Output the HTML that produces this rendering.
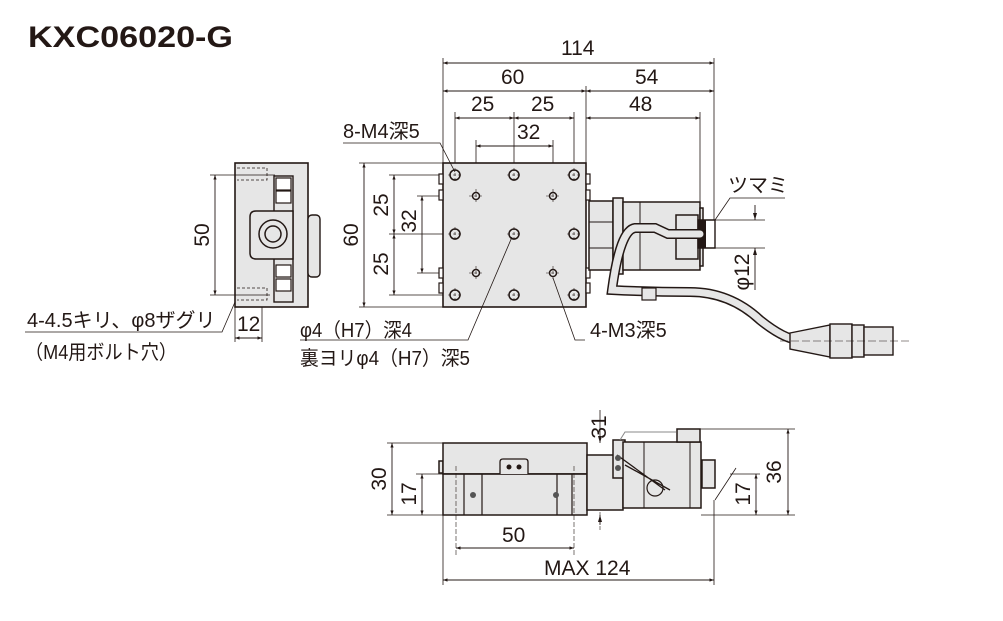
<!DOCTYPE html>
<html><head><meta charset="utf-8"><style>
body{margin:0;background:#fff}
svg{display:block}
text{font-family:"Liberation Sans","Noto Sans CJK JP",sans-serif;fill:#231815}
</style></head><body>
<svg width="1003" height="621" viewBox="0 0 1003 621" xmlns="http://www.w3.org/2000/svg">
<defs>
<marker id="a" viewBox="0 0 10 10" refX="10" refY="5" markerWidth="7" markerHeight="5" orient="auto-start-reverse"><path d="M0,1.5L10,5L0,8.5z" fill="#231815"/></marker>
</defs>
<text x="28" y="47" font-size="30" font-weight="bold" textLength="205" lengthAdjust="spacingAndGlyphs">KXC06020-G</text>

<g stroke="#231815" stroke-width="0.8" fill="none">
<path d="M443 58V163M714 58V222M586 86V163M455 112V175M514 112V175M574 112V175M700 112V202M476 140V196M553 140V196"/>
<path d="M359 163H443M359 307H443M389 175H455M389 234H455M389 295H455M417 196H476M417 273H476"/>
<path d="M715 220H765M715 248H765"/>
</g>
<g stroke="#231815" stroke-width="0.9" marker-start="url(#a)" marker-end="url(#a)" fill="none">
<line x1="443" y1="63" x2="714" y2="63"/>
<line x1="443" y1="91" x2="586" y2="91"/>
<line x1="586" y1="91" x2="714" y2="91"/>
<line x1="455" y1="118" x2="514" y2="118"/>
<line x1="514" y1="118" x2="574" y2="118"/>
<line x1="586" y1="118" x2="700" y2="118"/>
<line x1="476" y1="146" x2="553" y2="146"/>
<line x1="364" y1="163" x2="364" y2="307"/>
<line x1="394" y1="175" x2="394" y2="234"/>
<line x1="394" y1="234" x2="394" y2="295"/>
<line x1="422" y1="196" x2="422" y2="273"/>
</g>
<g stroke="#231815" stroke-width="0.9" fill="none">
<path d="M755 205V220M755 248V290" /></g>
<path d="M755 220l-2-7h4z M755 248l-2 7h4z" fill="#231815"/>

<g font-size="21">
<text x="561" y="55">114</text>
<text x="501" y="84">60</text>
<text x="635" y="84">54</text>
<text x="471" y="111">25</text>
<text x="531" y="111">25</text>
<text x="629" y="111">48</text>
<text x="517" y="139">32</text>
<text transform="translate(358,235) rotate(-90)" text-anchor="middle">60</text>
<text transform="translate(388,205) rotate(-90)" text-anchor="middle">25</text>
<text transform="translate(388,264) rotate(-90)" text-anchor="middle">25</text>
<text transform="translate(416,221) rotate(-90)" text-anchor="middle">32</text>
<text transform="translate(749,272) rotate(-90)" text-anchor="middle">φ12</text>
<text transform="translate(209,235) rotate(-90)" text-anchor="middle">50</text>
<text x="237" y="331">12</text>
</g>

<rect x="443" y="163" width="143" height="144" fill="#e6e6e6" stroke="#231815" stroke-width="1.6"/>
<g fill="#fff" stroke="#231815" stroke-width="1.2">
<rect x="439" y="174" width="4" height="10"/><rect x="439" y="190" width="4" height="10"/>
<rect x="439" y="268" width="4" height="10"/><rect x="439" y="283" width="4" height="10"/>
<rect x="586" y="174" width="4" height="10"/><rect x="586" y="190" width="4" height="10"/>
<rect x="586" y="268" width="4" height="10"/><rect x="586" y="283" width="4" height="10"/>
</g>
<g stroke="#231815" stroke-width="0.6" stroke-dasharray="3 2">
<path d="M448 175h14M455 168v14M507 175h14M514 168v14M567 175h14M574 168v14M448 234h14M455 227v14M507 234h14M514 227v14M567 234h14M574 227v14M448 295h14M455 288v14M507 295h14M514 288v14M567 295h14M574 288v14M469 196h14M476 189v14M546 196h14M553 189v14M469 273h14M476 266v14M546 273h14M553 266v14"/>
</g>
<g fill="none" stroke="#231815" stroke-width="1.5">
<circle cx="455" cy="175" r="5"/><circle cx="514" cy="175" r="5"/><circle cx="574" cy="175" r="5"/>
<circle cx="455" cy="234" r="5"/><circle cx="514" cy="234" r="5"/><circle cx="574" cy="234" r="5"/>
<circle cx="455" cy="295" r="5"/><circle cx="514" cy="295" r="5"/><circle cx="574" cy="295" r="5"/>
<circle cx="476" cy="196" r="3.5"/><circle cx="553" cy="196" r="3.5"/><circle cx="476" cy="273" r="3.5"/><circle cx="553" cy="273" r="3.5"/>
</g>
<g fill="#e6e6e6" stroke="#231815" stroke-width="1.5">
<rect x="589" y="201" width="24" height="69"/>
<rect x="613" y="198" width="10" height="76"/>
<rect x="623" y="202" width="77" height="68"/>
<rect x="676" y="215" width="22" height="44"/>
<rect x="700" y="208" width="3" height="58"/>
</g>
<path d="M589 222H613M589 248H613M640 202V270" stroke="#231815" stroke-width="1"/>
<path d="M698 220h17v28h-17z" fill="#fff" stroke="#231815" stroke-width="1.4"/>
<path d="M698 220h8v28h-8z" fill="#231815"/>
<path d="M700 234H668L655 228H635Q620 230 612 290Q650 292 690 292Q730 292 760 320Q785 340 800 340" fill="none" stroke="#231815" stroke-width="10" stroke-linecap="round"/>
<path d="M700 234H668L655 228H635Q620 230 612 290Q650 292 690 292Q730 292 760 320Q785 340 800 340" fill="none" stroke="#e6e6e6" stroke-width="7" stroke-linecap="round"/>
<path d="M790 333L830 325V357L790 349Z" fill="#e6e6e6" stroke="#231815" stroke-width="1.4"/>
<rect x="830" y="324" width="22" height="34" fill="#e6e6e6" stroke="#231815" stroke-width="1.4"/>
<rect x="852" y="325" width="12" height="32" fill="#e6e6e6" stroke="#231815" stroke-width="1.4"/>
<rect x="864" y="327" width="29" height="28" fill="#e6e6e6" stroke="#231815" stroke-width="1.4"/>
<rect x="642" y="288" width="14" height="12" fill="#e6e6e6" stroke="#231815" stroke-width="1.2"/>
<path d="M780 341H910" stroke="#231815" stroke-width="0.6" stroke-dasharray="8 3"/>

<rect x="235" y="163" width="73" height="144" fill="#e6e6e6" stroke="#231815" stroke-width="1.6"/>
<rect x="308" y="215" width="12" height="62" rx="4" fill="#e6e6e6" stroke="#231815" stroke-width="1.4"/>
<rect x="274" y="176" width="19" height="126" fill="#e6e6e6" stroke="#231815" stroke-width="1.4"/>
<g fill="#fff" stroke="#231815" stroke-width="1.2">
<rect x="276" y="178" width="15" height="12"/><rect x="276" y="191" width="15" height="12"/>
<rect x="276" y="265" width="15" height="12"/><rect x="276" y="279" width="15" height="12"/>
</g>
<path d="M256 211h37v48h-37q-6 0-6-6v-36q0-6 6-6z" fill="#e6e6e6" stroke="#231815" stroke-width="1.5"/>
<circle cx="273" cy="234" r="14" fill="#e6e6e6" stroke="#231815" stroke-width="1.5"/>
<circle cx="273" cy="234" r="8" fill="none" stroke="#231815" stroke-width="1.5"/>
<path d="M237 168h30v12h-30M237 288h30v12h-30" fill="none" stroke="#231815" stroke-width="0.8" stroke-dasharray="3 2"/>
<g stroke="#231815" stroke-width="0.8" fill="none">
<path d="M210 175H275M210 295H270M235 307V342M262 307V342"/>
</g>
<line x1="215" y1="175" x2="215" y2="295" stroke="#231815" stroke-width="0.9" marker-start="url(#a)" marker-end="url(#a)"/>
<line x1="235" y1="338" x2="262" y2="338" stroke="#231815" stroke-width="0.9" marker-start="url(#a)" marker-end="url(#a)"/>

<g stroke="#231815" stroke-width="0.8" fill="none">
<path d="M343 143H440L455 172"/>
<path d="M25 332H222L235 302"/>
<path d="M300 340H468L512 237"/>
<path d="M585 340H575L553 278"/>
<path d="M785 198H730L715 220"/>
</g>
<g font-size="20">
<text x="343" y="138">8-M4深5</text>
<text x="27" y="327">4-4.5キリ、φ8ザグリ</text>
<text x="25" y="359" textLength="152" lengthAdjust="spacingAndGlyphs">（M4用ボルト穴）</text>
<text x="300" y="337" textLength="112" lengthAdjust="spacingAndGlyphs">φ4（H7）深4</text>
<text x="300" y="365" textLength="170" lengthAdjust="spacingAndGlyphs">裏ヨリφ4（H7）深5</text>
<text x="590" y="337">4-M3深5</text>
<text x="728" y="192">ツマミ</text>
</g>

<g fill="#e6e6e6" stroke="#231815" stroke-width="1.5">
<rect x="439" y="461" width="4" height="12"/>
<rect x="587" y="461" width="4" height="12"/>
<rect x="443" y="443" width="144" height="31"/>
<rect x="443" y="474" width="144" height="41"/>
<rect x="587" y="455" width="36" height="55"/>
<rect x="613" y="440" width="12" height="38"/>
<rect x="623" y="442" width="78" height="66"/>
<rect x="677" y="429" width="23" height="13"/>
<rect x="702" y="460" width="13" height="28"/>
</g>
<path d="M443 474H587M464 474V515M572 474V515M482 474V515M557 474V515" stroke="#231815" stroke-width="1.2"/>
<path d="M500 474v-12q0-3 3-3h22q3 0 3 3v12" fill="#e6e6e6" stroke="#231815" stroke-width="1.3"/>
<circle cx="509" cy="467" r="2.5" fill="#231815"/><circle cx="519" cy="467" r="2.5" fill="#231815"/>
<circle cx="473" cy="495" r="3" fill="#555"/><circle cx="556" cy="495" r="3" fill="#555"/>
<path d="M617 455L665 490M625 465L670 490" stroke="#231815" stroke-width="1.3"/>
<circle cx="655" cy="488" r="8" fill="none" stroke="#231815" stroke-width="1.2"/>
<circle cx="618" cy="458" r="3" fill="#555"/><circle cx="618" cy="468" r="3" fill="#555"/>
<path d="M644 442V508M690 442V508" stroke="#231815" stroke-width="1"/>
<path d="M620 440L625 432H676" fill="none" stroke="#888" stroke-width="1"/>
<g stroke="#231815" stroke-width="0.6" stroke-dasharray="5 2" fill="none">
<path d="M456 466V555M574 466V555M600 512V530"/>
</g>
<g stroke="#231815" stroke-width="0.8" fill="none">
<path d="M387 443H443M416 474H443M387 515H443M700 429H795M730 474H760M701 515H795M443 515V585M714 500V585M600 410V443M600 515V525M736 468L715 500"/>
</g>
<g stroke="#231815" stroke-width="0.9" fill="none" marker-start="url(#a)" marker-end="url(#a)">
<line x1="392" y1="443" x2="392" y2="515"/>
<line x1="422" y1="474" x2="422" y2="515"/>
<line x1="788" y1="429" x2="788" y2="515"/>
<line x1="756" y1="474" x2="756" y2="515"/>
<line x1="456" y1="548" x2="574" y2="548"/>
<line x1="443" y1="580" x2="714" y2="580"/>
</g>
<path d="M600 443l-2-7h4zM600 515l-2 7h4z" fill="#231815"/>
<g font-size="21">
<text transform="translate(386,479) rotate(-90)" text-anchor="middle">30</text>
<text transform="translate(416,494) rotate(-90)" text-anchor="middle">17</text>
<text transform="translate(781,472) rotate(-90)" text-anchor="middle">36</text>
<text transform="translate(750,494) rotate(-90)" text-anchor="middle">17</text>
<text transform="translate(606,427) rotate(-90)" text-anchor="middle">31</text>
<text x="502" y="542">50</text>
<text x="544" y="575">MAX 124</text>
</g>
</svg>
</body></html>
